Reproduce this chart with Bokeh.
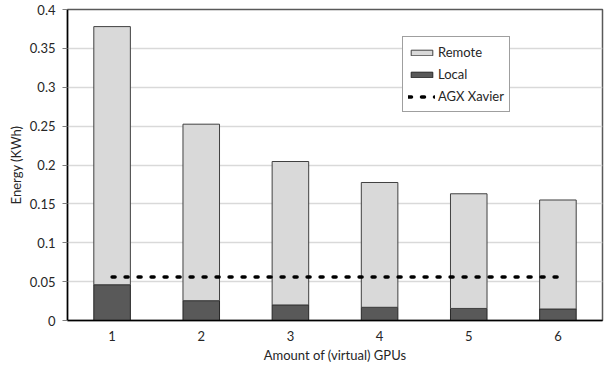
from bokeh.plotting import figure
from bokeh.models import (FactorRange, Range1d, FixedTicker, CustomJSTickFormatter,
                          Legend, LegendItem, ColumnDataSource)
from bokeh.embed import file_html
from bokeh.resources import INLINE

# ---- data ----
gpus = ["1", "2", "3", "4", "5", "6"]
local = [0.046, 0.0255, 0.020, 0.017, 0.0155, 0.0148]
total = [0.378, 0.2525, 0.2045, 0.1775, 0.163, 0.155]
remote = [t - l for t, l in zip(total, local)]
agx_xavier = [0.056] * len(gpus)
y_ticks = [0, 0.05, 0.1, 0.15, 0.2, 0.25, 0.3, 0.35, 0.4]

FONT = "Lato"

src = ColumnDataSource(dict(x=gpus, local=local, remote=remote, total=total, agx=agx_xavier))

p = figure(x_range=FactorRange(*gpus, range_padding=0.0), y_range=Range1d(0, 0.4),
           width=604, height=367, output_backend="svg", toolbar_location=None,
           min_border_left=67, min_border_right=2, min_border_top=9, min_border_bottom=47)

p.outline_line_color = "#595959"
p.outline_line_width = 1.5

local_r = p.vbar(x="x", bottom=0, top="local", width=0.41, source=src,
                 fill_color="#595959", line_color="#262626", line_width=1)
remote_r = p.vbar(x="x", bottom="local", top="total", width=0.41, source=src,
                  fill_color="#d9d9d9", line_color="#404040", line_width=1)
line_r = p.line(x="x", y="agx", source=src, line_color="black", line_width=3.5,
                line_dash="3 10", line_cap="round")

# grid
p.xgrid.grid_line_color = None
p.ygrid.grid_line_color = "#d9d9d9"
p.ygrid.grid_line_width = 1.5
p.ygrid.ticker = FixedTicker(ticks=y_ticks)

# y axis
p.yaxis.ticker = FixedTicker(ticks=y_ticks)
p.yaxis.formatter = CustomJSTickFormatter(
    code="return tick.toFixed(2).replace(/0+$/, '').replace(/\\.$/, '');")
p.yaxis.axis_label = "Energy (KWh)"
p.yaxis.axis_line_color = "black"
p.yaxis.axis_line_width = 1.5
p.yaxis.major_tick_out = 5
p.yaxis.major_tick_in = 0
p.yaxis.major_tick_line_color = "#7f7f7f"
p.yaxis.minor_tick_line_color = None
p.yaxis.major_label_standoff = 7
p.yaxis.axis_label_standoff = 3

# x axis
p.xaxis.axis_label = "Amount of (virtual) GPUs"
p.xaxis.axis_line_color = "black"
p.xaxis.axis_line_width = 1.5
p.xaxis.major_tick_line_color = None
p.xaxis.major_tick_out = 0
p.xaxis.major_tick_in = 0
p.xaxis.major_label_standoff = 10
p.xaxis.axis_label_standoff = 3

for ax in (p.xaxis, p.yaxis):
    ax.major_label_text_font = FONT
    ax.major_label_text_font_size = "13px"
    ax.major_label_text_color = "#262626"
    ax.axis_label_text_font = FONT
    ax.axis_label_text_font_size = "13px"
    ax.axis_label_text_font_style = "normal"
    ax.axis_label_text_color = "#262626"

legend = Legend(items=[LegendItem(label="Remote", renderers=[remote_r]),
                       LegendItem(label="Local", renderers=[local_r]),
                       LegendItem(label="AGX Xavier", renderers=[line_r])],
                location=(335, 208), orientation="vertical")
legend.border_line_color = "#404040"
legend.border_line_width = 1
legend.background_fill_alpha = 1
legend.padding = 5
legend.margin = 0
legend.spacing = 2
legend.glyph_width = 27
legend.glyph_height = 7
legend.label_height = 20
legend.label_standoff = 3
legend.label_text_font = FONT
legend.label_text_font_size = "13px"
legend.label_text_color = "#262626"
p.add_layout(legend, "center")

open("out.html", "w").write(file_html(p, INLINE))
